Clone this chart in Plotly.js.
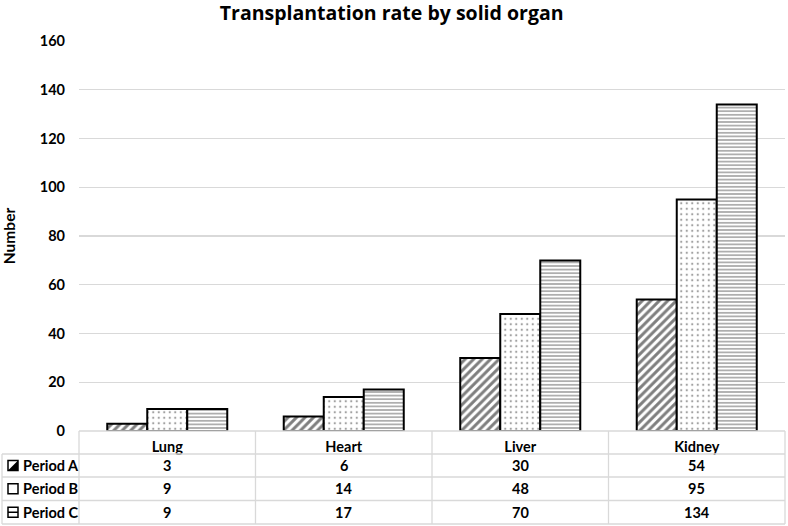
<!DOCTYPE html>
<html><head><meta charset="utf-8">
<script src="https://cdn.plot.ly/plotly-3.0.1.min.js"></script>
<style>html,body{margin:0;padding:0;background:#fff}#c{width:788px;height:526px}</style>
</head><body><div id="c"></div>
<script>
const organs = ["Lung", "Heart", "Liver", "Kidney"];
const periodA = [3, 6, 30, 54];
const periodB = [9, 14, 48, 95];
const periodC = [9, 17, 70, 134];
const seriesNames = ["Period A", "Period B", "Period C"];
const yTicks = [0, 20, 40, 60, 80, 100, 120, 140, 160];

const FONT = "Lato, 'Liberation Sans', sans-serif";
const TFONT = "'Open Sans', Lato, sans-serif";
const W = 788, H = 526;
const L = 79, R = 3, T = 41, B = 95;
const pw = W - L - R, ph = H - T - B;
const px2x = p => (p - L) / pw;
const py2y = p => (H - B - p) / ph;

const series = [periodA, periodB, periodC];
const shapesP = ["/", ".", "-"];
const sizes = [6, 5.5, 3.6];
const sol = [0.5, 0.14, 0.4];

const traces = series.map((vals, i) => ({
  type: "bar", name: seriesNames[i], x: organs, y: vals,
  marker: {color: "#ffffff", line: {color: "#000", width: 2},
    pattern: {shape: shapesP[i], fgcolor: i === 1 ? "#444" : (i === 2 ? "#333" : "#000"), bgcolor: "#fff", fillmode: "overlay", size: sizes[i], solidity: sol[i]}},
  hoverinfo: "skip"
}));

// table geometry (pixels)
const rowY = [431, 454, 477, 500.5, 524];
const colX = [79, 255.5, 432, 608.5, 785];
const leftX = 2;
const gray = "#d9d9d9";
const shapes = [];
const ann = [];
function hline(y, x0, x1) { shapes.push({type: "line", xref: "paper", yref: "paper", x0: px2x(x0), x1: px2x(x1), y0: py2y(y), y1: py2y(y), line: {color: gray, width: 1.3}}); }
function vline(x, y0, y1) { shapes.push({type: "line", xref: "paper", yref: "paper", x0: px2x(x), x1: px2x(x), y0: py2y(y0), y1: py2y(y1), line: {color: gray, width: 1.3}}); }
hline(rowY[0], colX[0], colX[4]);
for (let r = 1; r < rowY.length; r++) hline(rowY[r], leftX, colX[4]);
colX.forEach(x => vline(x, rowY[0], rowY[4]));
vline(leftX, rowY[1], rowY[4]);

// row labels, legend keys and values
series.forEach((vals, i) => {
  const yc = (rowY[i + 1] + rowY[i + 2]) / 2;
  ann.push({xref: "paper", yref: "paper", x: px2x(21), y: py2y(yc), xanchor: "left", yanchor: "middle",
    text: "<b>" + seriesNames[i] + "</b>", showarrow: false, font: {family: FONT, size: 14.5, color: "#000"}});
  const k0 = 8, k1 = 18, ky0 = yc - 5, ky1 = yc + 5;
  shapes.push({type: "rect", xref: "paper", yref: "paper", x0: px2x(k0), x1: px2x(k1), y0: py2y(ky1), y1: py2y(ky0), line: {color: "#000", width: 1.5}, fillcolor: "#fff"});
  if (i === 0) {
    shapes.push({type: "path", xref: "paper", yref: "paper",
      path: `M ${px2x(k1)} ${py2y(ky0)} L ${px2x(k1)} ${py2y(ky1)} L ${px2x(k0)} ${py2y(ky1)} Z`, fillcolor: "#000", line: {width: 0}});
  } else if (i === 2) {
    shapes.push({type: "line", xref: "paper", yref: "paper", x0: px2x(k0), x1: px2x(k1), y0: py2y(yc), y1: py2y(yc), line: {color: "#000", width: 1.5}});
  }
  vals.forEach((v, j) => {
    ann.push({xref: "x", yref: "paper", x: organs[j], y: py2y(yc), xanchor: "center", yanchor: "middle",
      text: "<b>" + v + "</b>", showarrow: false, font: {family: FONT, size: 14.5, color: "#000"}});
  });
});

const layout = {
  width: W, height: H, margin: {l: L, r: R, t: T, b: B},
  paper_bgcolor: "#fff", plot_bgcolor: "#fff",
  title: {text: "<b>Transplantation rate by solid organ</b>", x: 0.497, xref: "container", xanchor: "center", y: 0.975, yref: "container", yanchor: "middle",
    font: {family: TFONT, size: 19.5, color: "#000"}},
  showlegend: false,
  barmode: "group", bargap: 0.32, bargroupgap: 0,
  xaxis: {type: "category", range: [-0.5, 3.5], showgrid: false, zeroline: false, showline: false,
    ticks: "", ticklabelstandoff: 5, tickfont: {family: FONT, size: 14.5, color: "#000"},
    tickvals: organs, ticktext: organs.map(o => "<b>" + o + "</b>")},
  yaxis: {range: [0, 160], tickvals: yTicks, ticktext: yTicks.map(t => "<b>" + t + "</b>"),
    showgrid: true, gridcolor: gray, gridwidth: 1.3, zeroline: false, showline: false, ticks: "",
    ticklabelstandoff: 13, tickfont: {family: FONT, size: 14.5, color: "#000"},
    title: {text: "<b>Number</b>", font: {family: FONT, size: 15.5, color: "#000"}, standoff: 21}},
  shapes: shapes, annotations: ann
};
Plotly.newPlot("c", traces, layout, {displayModeBar: false, staticPlot: true});
</script>
</body></html>
